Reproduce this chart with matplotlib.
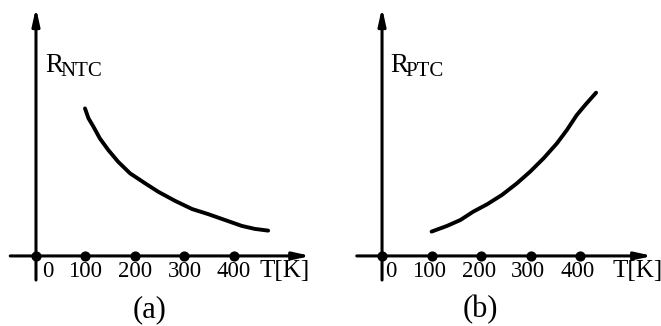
import matplotlib
matplotlib.use("Agg")
import matplotlib.pyplot as plt

# Data (arbitrary resistance units)
tick_T = [0, 100, 200, 300, 400]
tick_labels = ["0", "100", "200", "300", "400"]

ntc_T = [99, 106, 116, 129, 146, 166, 190, 220, 247, 281, 315, 348, 382, 416, 442, 469]
ntc_R = [6.00, 5.60, 5.26, 4.78, 4.31, 3.83, 3.36, 2.96, 2.61, 2.24, 1.91, 1.70,
         1.46, 1.22, 1.10, 1.03]

ptc_T = [100, 131, 158, 184, 212, 242, 272, 299, 326, 353, 373, 393, 410, 432]
ptc_R = [0.99, 1.22, 1.46, 1.80, 2.10, 2.48, 2.95, 3.43, 3.97, 4.58, 5.12, 5.73,
         6.14, 6.64]

plt.rcParams['font.family'] = ['Liberation Serif', 'DejaVu Serif']

fig = plt.figure(figsize=(6.61, 3.26), dpi=100)
fig.patch.set_facecolor('white')

panels = [
    dict(rect=[0, 0, 0.5, 1], xlim=(-72.7, 595), T=ntc_T, R=ntc_R, sub="NTC",
         xstart=-52, xend=555, tk_x=503, tag_x=230, tag="(a)", dx0=24, dx=0,
         r_x=18, sub_x=49),
    dict(rect=[0.5, 0, 0.5, 1], xlim=(-104, 563), T=ptc_T, R=ptc_R, sub="PTC",
         xstart=-51, xend=546, tk_x=515, tag_x=198, tag="(b)", dx0=17, dx=-5,
         r_x=16, sub_x=47),
]

for p in panels:
    ax = fig.add_axes(p['rect'])
    ax.set_xlim(*p['xlim'])
    ax.set_ylim(-2.85, 10.41)
    ax.axis('off')
    # x axis arrow
    ax.annotate("", xy=(p['xend'], 0), xytext=(p['xstart'], 0),
                arrowprops=dict(arrowstyle="-|>,head_length=1.0,head_width=0.22",
                                lw=2.2, color='black', shrinkA=0, shrinkB=0))
    # y axis arrow
    ax.annotate("", xy=(0, 10.1), xytext=(0, -0.98),
                arrowprops=dict(arrowstyle="-|>,head_length=1.0,head_width=0.22",
                                lw=2.2, color='black', shrinkA=0, shrinkB=0))
    # tick dots
    ax.scatter(tick_T, [0] * len(tick_T), s=40, color='black', zorder=5)
    for t, lab in zip(tick_T, tick_labels):
        off = p['dx0'] if t == 0 else p['dx']
        ax.text(t + off, -0.62, lab, ha='center', va='center', fontsize=16.5)
    ax.text(p['tk_x'], -0.62, "T[K]", ha='center', va='center', fontsize=18)
    # curve
    ax.plot(p['T'], p['R'], color='black', lw=2.8, solid_capstyle='round',
            solid_joinstyle='round')
    # y label
    ax.text(p['r_x'], 7.48, "R", ha='left', va='baseline', fontsize=19.5)
    ax.text(p['sub_x'], 7.32, p['sub'], ha='left', va='baseline', fontsize=15)
    # panel tag
    ax.text(p['tag_x'], -2.18, p['tag'], ha='center', va='center', fontsize=22)

fig.savefig("out.png", dpi=100, facecolor='white')
